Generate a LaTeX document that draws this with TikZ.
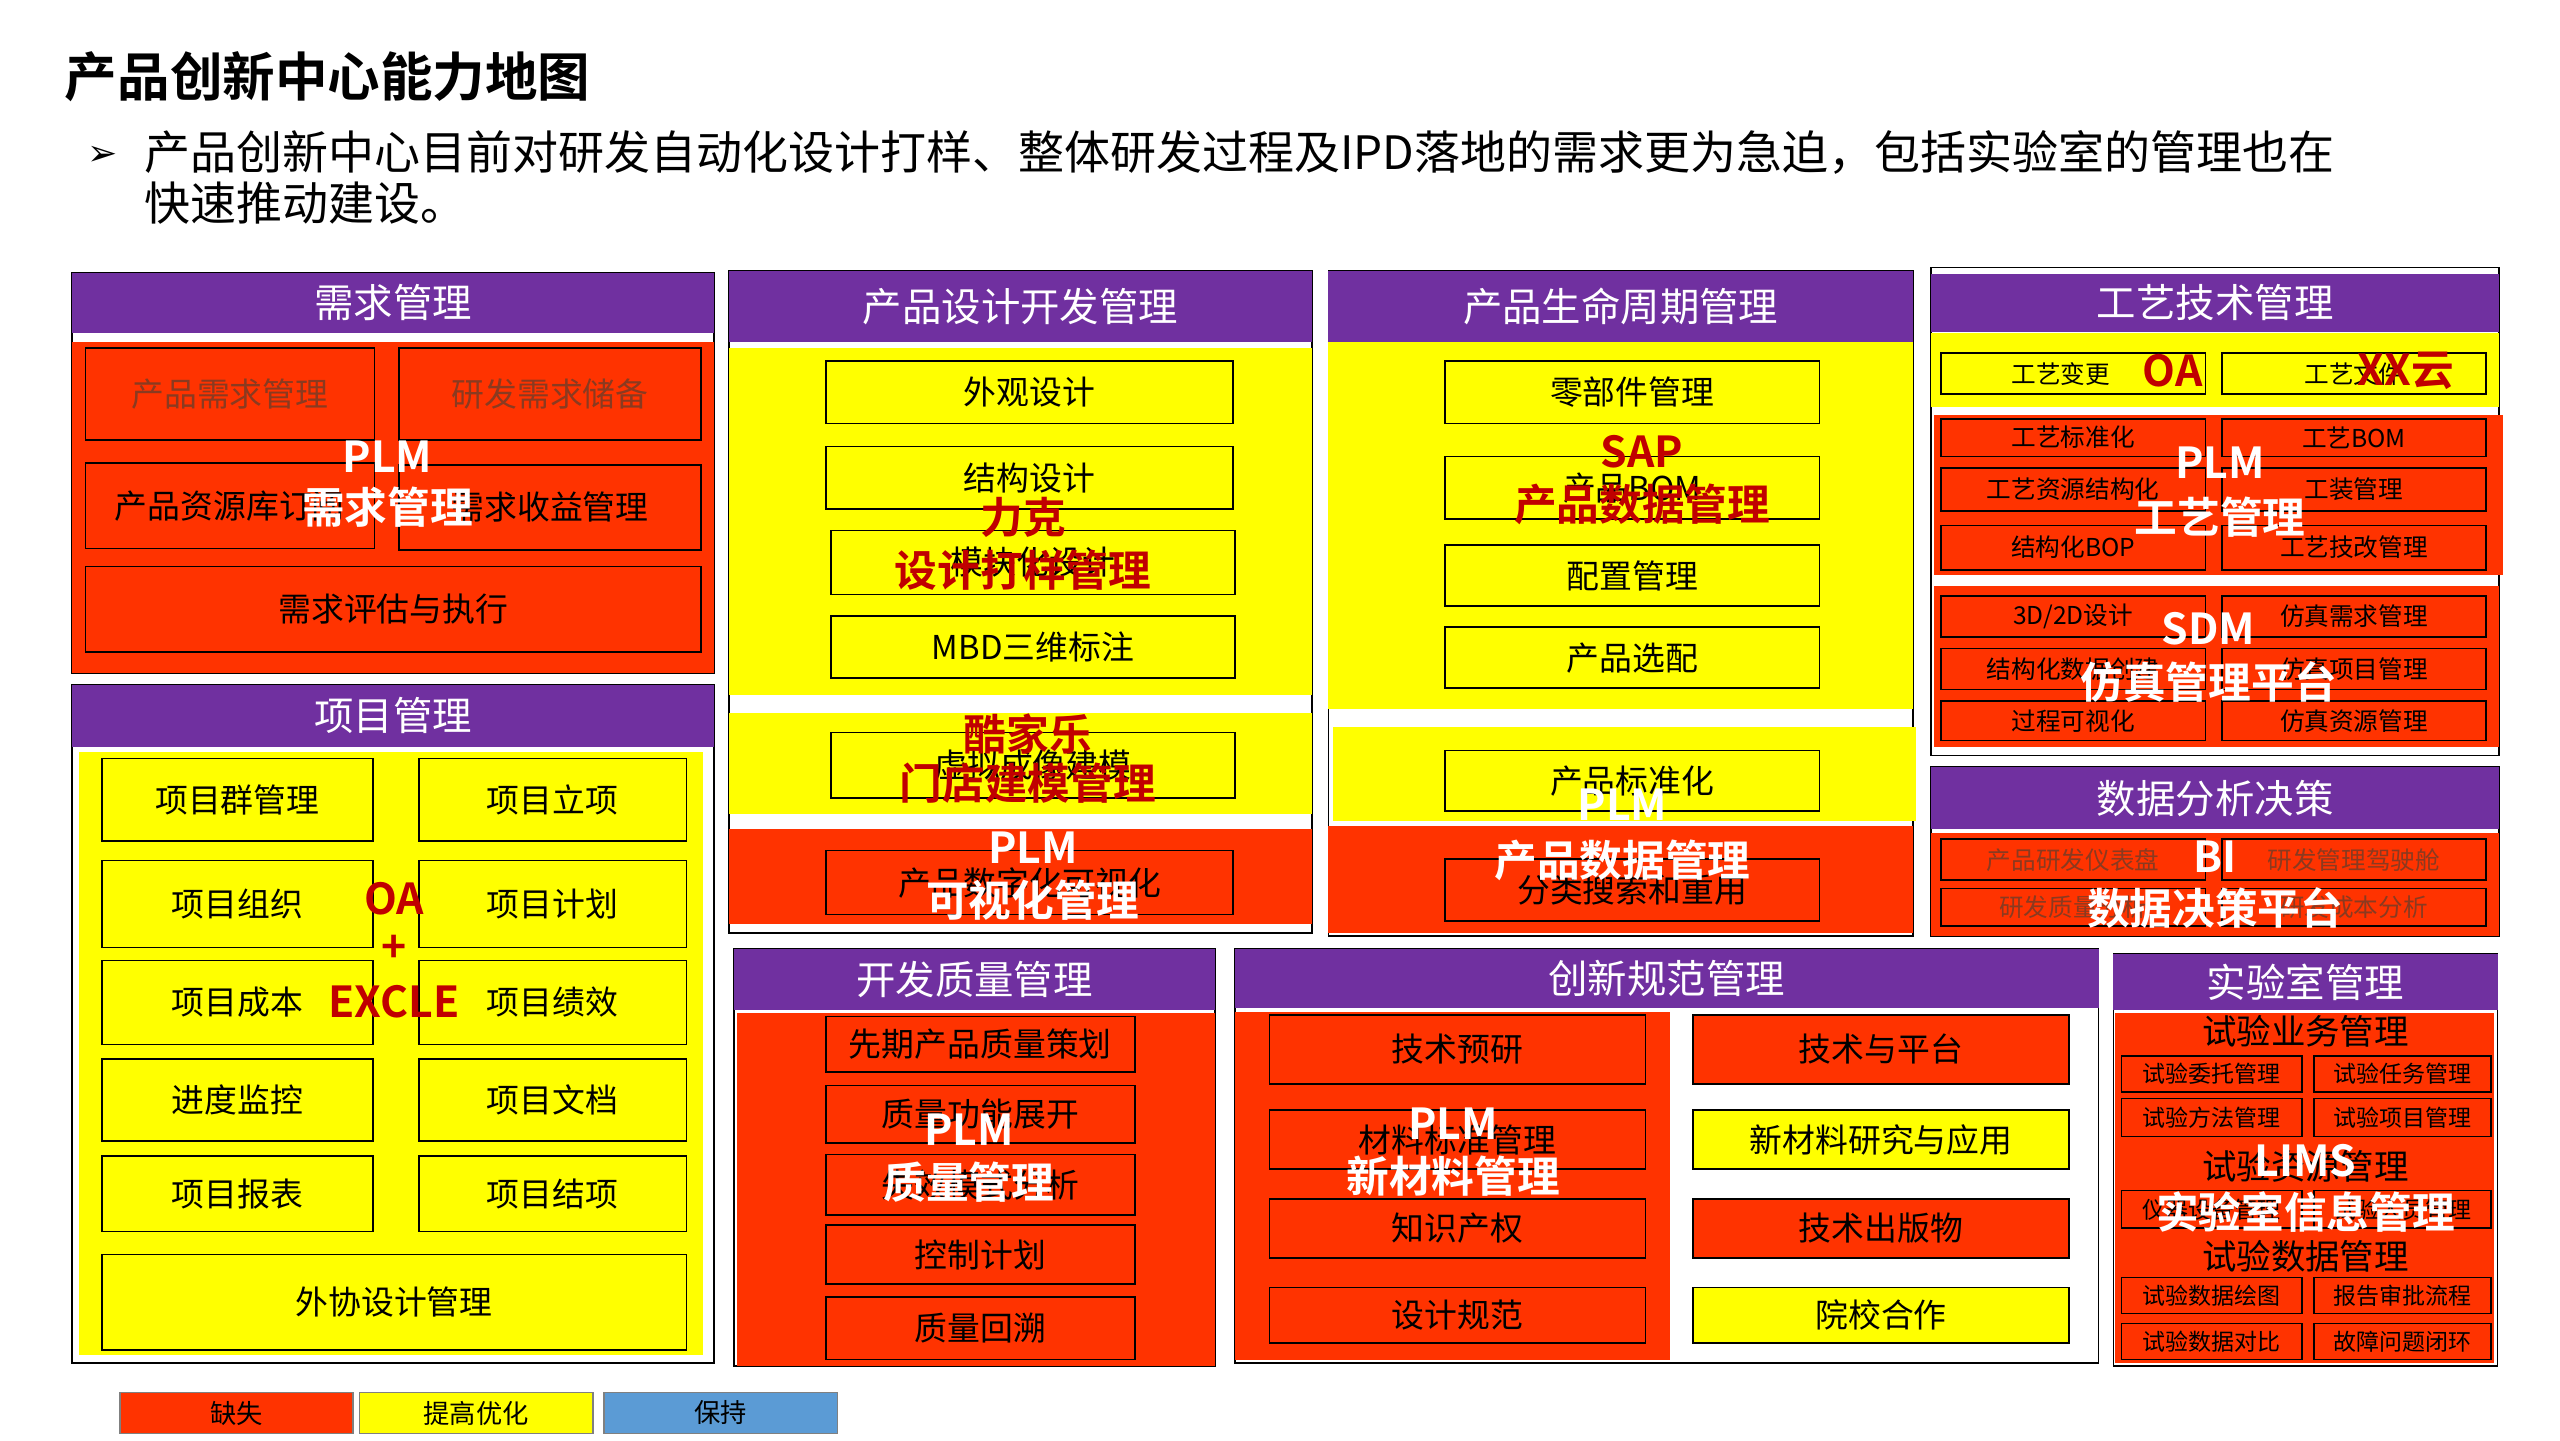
\documentclass[tikz,border=0pt]{standalone}
\usepackage{fontspec}
\setmainfont{Noto Sans CJK SC}
\newfontfamily\bfcjk{Noto Sans CJK SC Bold}
\newfontfamily\djv{DejaVu Sans}
\definecolor{pur}{HTML}{7030A0}
\definecolor{rd}{HTML}{FF3300}
\definecolor{yl}{HTML}{FFFF00}
\definecolor{dr}{HTML}{C00000}
\definecolor{bl}{HTML}{5B9BD5}
\definecolor{gt}{HTML}{8A3A20}
\newcommand\fs[1]{\fontsize{#1}{#1}\selectfont}
\newcommand\bx[7]{\node[cell,#6,minimum width={#4-#2},minimum height={#5-#3}] (#1) at ({(#2+#4)/2},{(#3+#5)/2}) {#7};}
\newcommand\area[6]{\path[fill=#6] (#2,#3) rectangle (#4,#5) coordinate (#1);}
\newcommand\hdr[6]{\node[hd,minimum width={#4-#2},minimum height={#5-#3}] (#1) at ({(#2+#4)/2},{(#3+#5)/2}) {#6};}
\begin{document}
\begin{tikzpicture}[x=1pt,y=-1pt,
 cell/.style={draw=black,line width=1pt,inner sep=0pt,font=\fs{20}},
 sm/.style={font=\fs{15}},
 xs/.style={font=\fs{14}},
 hd/.style={fill=pur,inner sep=0pt,text=white,font=\fs{24}},
 frame/.style={draw=black,line width=1pt},
 ovw/.style={text=white,font=\bfcjk\fs{26},inner sep=0pt},
 ovr/.style={text=dr,font=\bfcjk\fs{26},inner sep=0pt}]
\useasboundingbox (0,0) rectangle (1559,877);
\node[anchor=west,font=\bfcjk\fs{32}] (title) at (36,47) {产品创新中心能力地图};
\node[anchor=west,font=\djv\fs{22}] (arr) at (50,95) {➢};
\node[anchor=north west,align=left,font=\fs{28},inner sep=0pt] (sub) at (88,79) {产品创新中心目前对研发自动化设计打样、整体研发过程及IPD落地的需求更为急迫，包括实验室的管理也在\\[3pt]快速推动建设。};
% ---------- 需求管理
\draw[frame] (44,166) rectangle (435,410);
\hdr{h1}{44}{166}{435}{203}{需求管理}
\area{a1}{44}{208}{435}{410}{rd}
\bx{n11}{52}{212}{228}{268}{fill=rd,text=gt}{产品需求管理}
\bx{n12}{243}{212}{427}{268}{fill=rd,text=gt}{研发需求储备}
\bx{n13}{52}{282}{228}{334}{fill=rd}{产品资源库订阅}
\bx{n14}{243}{283}{427}{335}{fill=rd}{需求收益管理}
\bx{n15}{52}{345}{427}{397}{fill=rd}{需求评估与执行}
\node[ovw] (o1) at (236,278) {PLM};
\node[ovw] (o1b) at (236,309) {需求管理};
% ---------- 项目管理
\draw[frame] (44,417) rectangle (435,830);
\hdr{h2}{44}{417}{435}{455}{项目管理}
\area{a2}{48}{458}{428}{825}{yl}
\bx{p1}{62}{462}{227}{512}{fill=yl}{项目群管理}
\bx{p2}{255}{462}{418}{512}{fill=yl}{项目立项}
\bx{p3}{62}{524}{227}{577}{fill=yl}{项目组织}
\bx{p4}{255}{524}{418}{577}{fill=yl}{项目计划}
\bx{p5}{62}{585}{227}{636}{fill=yl}{项目成本}
\bx{p6}{255}{585}{418}{636}{fill=yl}{项目绩效}
\bx{p7}{62}{645}{227}{695}{fill=yl}{进度监控}
\bx{p8}{255}{645}{418}{695}{fill=yl}{项目文档}
\bx{p9}{62}{704}{227}{750}{fill=yl}{项目报表}
\bx{p10}{255}{704}{418}{750}{fill=yl}{项目结项}
\bx{p11}{62}{764}{418}{822}{fill=yl}{外协设计管理}
\node[ovr] (o2) at (240,547) {OA};
\node[ovr] (o2b) at (240,578) {+};
\node[ovr] (o2c) at (240,610) {EXCLE};
% ---------- 产品设计开发管理
\draw[frame] (444,165) rectangle (799,568);
\hdr{h3}{444}{165}{799}{208}{产品设计开发管理}
\area{a3}{444}{212}{799}{423}{yl}
\area{a3b}{444}{434}{799}{496}{yl}
\area{a3c}{444}{505}{799}{563}{rd}
\bx{d1}{503}{220}{751}{258}{fill=yl}{外观设计}
\bx{d2}{503}{272}{751}{310}{fill=yl}{结构设计}
\bx{d3}{506}{323}{752}{362}{fill=yl}{模块化设计}
\bx{d4}{506}{375}{752}{413}{fill=yl}{MBD三维标注}
\bx{d5}{506}{446}{752}{486}{fill=yl}{虚拟成像建模}
\bx{d6}{503}{518}{751}{557}{fill=rd}{产品数字化可视化}
\node[ovr] (o3) at (623,315) {力克};
\node[ovr] (o3b) at (623,347) {设计打样管理};
\node[ovr] (o3c) at (626,447) {酷家乐};
\node[ovr] (o3d) at (626,477) {门店建模管理};
\node[ovw] (o3e) at (629,516) {PLM};
\node[ovw] (o3f) at (629,548) {可视化管理};
% ---------- 产品生命周期管理
\draw[frame] (809,165) rectangle (1165,570);
\hdr{h4}{809}{165}{1165}{208}{产品生命周期管理}
\area{a4}{809}{208}{1165}{432}{yl}
\area{a4b}{812}{443}{1167}{500}{yl}
\area{a4c}{809}{503}{1165}{568}{rd}
\bx{l1}{880}{220}{1108}{258}{fill=yl}{零部件管理}
\bx{l2}{880}{278}{1108}{316}{fill=yl}{产品BOM}
\bx{l3}{880}{332}{1108}{369}{fill=yl}{配置管理}
\bx{l4}{880}{382}{1108}{419}{fill=yl}{产品选配}
\bx{l5}{880}{457}{1108}{494}{fill=yl}{产品标准化}
\bx{l6}{880}{523}{1108}{561}{fill=rd}{分类搜索和重用}
\node[ovr] (o4) at (1000,275) {SAP};
\node[ovr] (o4b) at (1000,307) {产品数据管理};
\node[ovw] (o4c) at (988,490) {PLM};
\node[ovw] (o4d) at (988,524) {产品数据管理};
% ---------- 工艺技术管理
\draw[frame] (1176,163) rectangle (1522,460);
\hdr{h5}{1176}{167}{1522}{202}{工艺技术管理}
\area{a5}{1176}{203}{1522}{248}{yl}
\area{a5b}{1178}{253}{1524}{350}{rd}
\area{a5c}{1178}{357}{1522}{455}{rd}
\bx{g1}{1182}{215}{1343}{240}{fill=yl,sm}{\quad 工艺变更\qquad\quad}
\bx{g2}{1353}{215}{1514}{240}{fill=yl,sm}{工艺文件\qquad}
\bx{g3}{1182}{255}{1343}{278}{fill=rd,sm}{工艺标准化}
\bx{g4}{1353}{255}{1514}{278}{fill=rd,sm}{工艺BOM}
\bx{g5}{1182}{285}{1343}{311}{fill=rd,sm}{工艺资源结构化}
\bx{g6}{1353}{285}{1514}{311}{fill=rd,sm}{工装管理}
\bx{g7}{1182}{320}{1343}{347}{fill=rd,sm}{结构化BOP}
\bx{g8}{1353}{320}{1514}{347}{fill=rd,sm}{工艺技改管理}
\bx{g9}{1182}{363}{1343}{388}{fill=rd,sm}{3D/2D设计}
\bx{g10}{1353}{363}{1514}{388}{fill=rd,sm}{仿真需求管理}
\bx{g11}{1182}{395}{1343}{420}{fill=rd,sm}{结构化数据创建}
\bx{g12}{1353}{395}{1514}{420}{fill=rd,sm}{仿真项目管理}
\bx{g13}{1182}{427}{1343}{451}{fill=rd,sm}{过程可视化}
\bx{g14}{1353}{427}{1514}{451}{fill=rd,sm}{仿真资源管理}
\node[ovr] (o5) at (1323,226) {OA};
\node[ovr] (o5b) at (1465,226) {XX云};
\node[ovw] (o5c) at (1352,282) {PLM};
\node[ovw] (o5d) at (1352,315) {工艺管理};
\node[ovw] (o5e) at (1345,383) {SDM};
\node[ovw] (o5f) at (1345,415) {仿真管理平台};
% ---------- 数据分析决策
\draw[frame] (1176,467) rectangle (1522,570);
\hdr{h6}{1176}{467}{1522}{505}{数据分析决策}
\area{a6}{1176}{507}{1522}{570}{rd}
\bx{b1}{1182}{511}{1343}{536}{fill=rd,text=gt,sm}{产品研发仪表盘}
\bx{b2}{1353}{511}{1514}{536}{fill=rd,text=gt,sm}{研发管理驾驶舱}
\bx{b3}{1182}{541}{1343}{564}{fill=rd,text=gt,sm}{研发质量分析}
\bx{b4}{1353}{541}{1514}{564}{fill=rd,text=gt,sm}{研发成本分析}
\node[ovw] (o6) at (1349,522) {BI};
\node[ovw] (o6b) at (1349,553) {数据决策平台};
% ---------- 开发质量管理
\draw[frame] (447,578) rectangle (740,832);
\hdr{h7}{447}{578}{740}{615}{开发质量管理}
\area{a7}{449}{617}{740}{832}{rd}
\bx{q1}{503}{619}{691}{653}{fill=rd}{先期产品质量策划}
\bx{q2}{503}{661}{691}{696}{fill=rd}{质量功能展开}
\bx{q3}{503}{703}{691}{740}{fill=rd}{失效模式分析}
\bx{q4}{503}{746}{691}{782}{fill=rd}{控制计划}
\bx{q5}{503}{790}{691}{828}{fill=rd}{质量回溯}
\node[ovw] (o7) at (590,688) {PLM};
\node[ovw] (o7b) at (590,720) {质量管理};
% ---------- 创新规范管理
\draw[frame] (752,578) rectangle (1278,830);
\hdr{h8}{752}{578}{1278}{614}{创新规范管理}
\area{a8}{752}{616}{1017}{828}{rd}
\bx{c1}{773}{618}{1002}{660}{fill=rd}{技术预研}
\bx{c2}{773}{676}{1002}{712}{fill=rd}{材料标准管理}
\bx{c3}{773}{730}{1002}{766}{fill=rd}{知识产权}
\bx{c4}{773}{784}{1002}{818}{fill=rd}{设计规范}
\bx{c5}{1031}{618}{1260}{660}{fill=rd}{技术与平台}
\bx{c6}{1031}{676}{1260}{712}{fill=yl}{新材料研究与应用}
\bx{c7}{1031}{730}{1260}{766}{fill=rd}{技术出版物}
\bx{c8}{1031}{784}{1260}{818}{fill=yl}{院校合作}
\node[ovw] (o8) at (885,684) {PLM};
\node[ovw] (o8b) at (885,716) {新材料管理};
% ---------- 实验室管理
\draw[frame] (1287,581) rectangle (1521,832);
\hdr{h9}{1287}{581}{1521}{615}{实验室管理}
\area{a9}{1288}{617}{1519}{830}{rd}
\node[font=\fs{21},inner sep=0pt] (e0) at (1404,628) {试验业务管理};
\bx{e1}{1292}{643}{1402}{665}{fill=rd,xs}{试验委托管理}
\bx{e2}{1409}{643}{1517}{665}{fill=rd,xs}{试验任务管理}
\bx{e3}{1292}{669}{1402}{692}{fill=rd,xs}{试验方法管理}
\bx{e4}{1409}{669}{1517}{692}{fill=rd,xs}{试验项目管理}
\node[font=\fs{21},inner sep=0pt] (e5) at (1404,710) {试验资源管理};
\bx{e6}{1292}{725}{1402}{748}{fill=rd,xs}{仪器设备管理}
\bx{e7}{1409}{725}{1517}{748}{fill=rd,xs}{试验人员管理}
\node[font=\fs{21},inner sep=0pt] (e8) at (1404,765) {试验数据管理};
\bx{e9}{1292}{778}{1402}{800}{fill=rd,xs}{试验数据绘图}
\bx{e10}{1409}{778}{1517}{800}{fill=rd,xs}{报告审批流程}
\bx{e11}{1292}{806}{1402}{828}{fill=rd,xs}{试验数据对比}
\bx{e12}{1409}{806}{1517}{828}{fill=rd,xs}{故障问题闭环}
\node[ovw] (o9) at (1404,707) {LIMS};
\node[ovw] (o9b) at (1404,738) {实验室信息管理};
% ---------- legend
\bx{k1}{73}{848}{215}{873}{fill=rd,draw=gray,font=\fs{16}}{缺失}
\bx{k2}{219}{848}{361}{873}{fill=yl,draw=gray,font=\fs{16}}{提高优化}
\bx{k3}{368}{848}{510}{873}{fill=bl,draw=gray,font=\fs{16}}{保持}
\end{tikzpicture}
\end{document}
